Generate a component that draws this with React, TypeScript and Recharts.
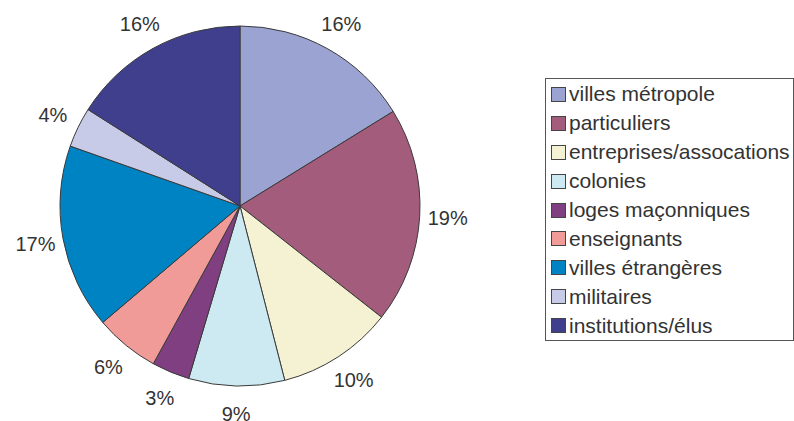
import React from "react";
import { PieChart, Pie, Cell, Legend } from "recharts";

const categories = [
  "villes métropole",
  "particuliers",
  "entreprises/assocations",
  "colonies",
  "loges maçonniques",
  "enseignants",
  "villes étrangères",
  "militaires",
  "institutions/élus",
];
const shares = [16.2, 19.4, 10.4, 8.6, 3.4, 5.8, 16.6, 3.6, 16.0];
const colors = [
  "#9ba3d2",
  "#a45c7c",
  "#f5f2d3",
  "#cde9f2",
  "#7f3f80",
  "#f09b98",
  "#0083c3",
  "#c8cbe8",
  "#3f3f8e",
];

const data = categories.map((name, i) => ({ name, value: shares[i] }));

const RAD = Math.PI / 180;
const FONT = "'Liberation Sans', Arial, Helvetica, sans-serif";

const renderLabel = (props: any) => {
  const { cx, cy, midAngle, outerRadius, percent } = props;
  const r = outerRadius + 28;
  const x = cx + r * Math.cos(-midAngle * RAD);
  const y = cy + r * Math.sin(-midAngle * RAD);
  return (
    <text
      x={x}
      y={y}
      fill="#333"
      fontSize={20}
      fontFamily={FONT}
      textAnchor="middle"
      dominantBaseline="central"
    >
      {`${Math.round(percent * 100)}%`}
    </text>
  );
};

const LegendBox = () => {
  return (
    <div
      style={{
        border: "1px solid #555",
        boxSizing: "border-box",
        width: 249,
        height: 263,
        padding: "1px 0 0 5px",
        fontFamily: FONT,
        fontSize: 21,
        color: "#333",
        background: "#fff",
      }}
    >
      {categories.map((name, i) => (
        <div
          key={name}
          style={{ display: "flex", alignItems: "center", height: 28.9, whiteSpace: "nowrap" }}
        >
          <span
            style={{
              display: "inline-block",
              width: 13,
              height: 13,
              background: colors[i],
              border: "1px solid #444",
              marginRight: 3,
              flex: "none",
            }}
          />
          <span>{name}</span>
        </div>
      ))}
    </div>
  );
};

export default function App() {
  return (
    <div style={{ position: "absolute", left: 0, top: 0, width: 794, height: 421, background: "#fff" }}>
      <PieChart width={794} height={421} margin={{ top: 0, right: 0, bottom: 0, left: 0 }}>
        <Pie
          data={data}
          dataKey="value"
          nameKey="name"
          cx={240}
          cy={206}
          outerRadius={180}
          startAngle={90}
          endAngle={-270}
          stroke="#3a3a3a"
          strokeWidth={1}
          label={renderLabel}
          labelLine={false}
          isAnimationActive={false}
        >
          {data.map((d, i) => (
            <Cell key={d.name} fill={colors[i]} />
          ))}
        </Pie>
        <Legend
          layout="vertical"
          content={<LegendBox />}
          wrapperStyle={{ left: 545, top: 78, width: 249 }}
        />
      </PieChart>
    </div>
  );
}
